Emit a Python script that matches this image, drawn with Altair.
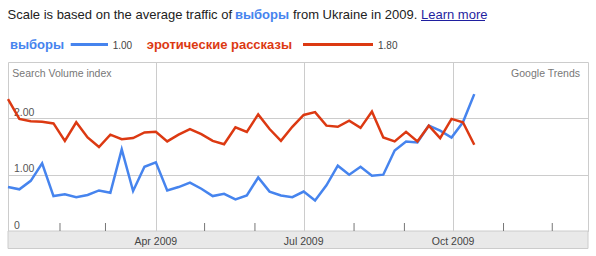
import altair as alt
import pandas as pd

FONT = "Liberation Sans, Arial, sans-serif"

# ---- data -------------------------------------------------------------
series_names = ["выборы", "эротические рассказы"]
series_colors = ["#4684ee", "#dc3912"]
series_avg = ["1.00", "1.80"]

# weekly points (mid-week), first week of 2009 to mid-October 2009
week_dates = [d.strftime("%Y-%m-%d") for d in pd.date_range("2008-12-31", periods=42, freq="7D")]

vybory = [0.78, 0.74, 0.89, 1.20, 0.62, 0.65, 0.60, 0.64, 0.72, 0.68,
          1.45, 0.71, 1.14, 1.22, 0.72, 0.78, 0.86, 0.75, 0.62, 0.66,
          0.56, 0.63, 0.95, 0.70, 0.63, 0.60, 0.70, 0.54, 0.81, 1.16,
          1.00, 1.14, 0.98, 1.00, 1.43, 1.59, 1.57, 1.87, 1.78, 1.66,
          1.93, 2.43]
rasskazy = [2.34, 1.99, 1.95, 1.94, 1.91, 1.60, 1.93, 1.66, 1.49, 1.71,
            1.63, 1.65, 1.75, 1.76, 1.59, 1.71, 1.81, 1.72, 1.60, 1.54,
            1.84, 1.76, 2.07, 1.81, 1.60, 1.85, 2.06, 2.11, 1.87, 1.85,
            1.96, 1.83, 2.12, 1.66, 1.59, 1.76, 1.59, 1.87, 1.65, 1.99,
            1.93, 1.53]

quarter_dates = ["2009-04-01", "2009-07-01", "2009-10-01"]
quarter_labels = ["Apr 2009", "Jul 2009", "Oct 2009"]
month_tick_dates = ["2009-02-01", "2009-03-01", "2009-05-01", "2009-06-01",
                    "2009-08-01", "2009-09-01", "2009-11-01", "2009-12-01"]

y_ticks = [0, 1, 2]

header_parts = ["Scale is based on the average traffic of", "выборы",
                "from Ukraine in 2009.", "Learn more"]
corner_left = "Search Volume index"
corner_right = "Google Trends"

# ---- tables -----------------------------------------------------------
df = pd.DataFrame({
    "date": week_dates * 2,
    "series": [series_names[0]] * len(vybory) + [series_names[1]] * len(rasskazy),
    "value": vybory + rasskazy,
})
qdf = pd.DataFrame({"date": quarter_dates, "label": quarter_labels})
mdf = pd.DataFrame({"date": month_tick_dates})

W, H = 580, 169

xscale = alt.Scale(
    type="utc",
    domain=[alt.DateTime(year=2008, month=12, date=31, utc=True),
            alt.DateTime(year=2009, month=12, date=23, utc=True)],
)
x_enc = alt.X(
    "date:T", scale=xscale,
    axis=alt.Axis(values=[alt.DateTime(year=2009, month=m, date=1, utc=True) for m in (4, 7, 10)],
                  grid=True, gridColor="#cccccc", labels=False, ticks=False,
                  domain=False, title=None),
)
y_enc = alt.Y(
    "value:Q", scale=alt.Scale(domain=[0, 3], nice=False),
    axis=alt.Axis(values=y_ticks, grid=True, gridColor="#cccccc", ticks=False, tickSize=0,
                  domain=False, title=None, labelAlign="left", labelBaseline="alphabetic",
                  labelPadding=-5.5, labelOffset=-3, labelFlush=False, labelOverlap=False,
                  labelFont=FONT, labelFontSize=10.5, labelColor="#555555",
                  labelExpr="datum.value == 0 ? '0' : format(datum.value, '.2f')"),
)

strip = alt.Chart(pd.DataFrame({"k": [0]})).mark_rect(
    fill="#e9e9e9", stroke="#cccccc", strokeWidth=1
).encode(x=alt.value(0), x2=alt.value(W), y=alt.value(H), y2=alt.value(H + 17.5))

month_ticks = alt.Chart(mdf).mark_rule(color="#777777", strokeWidth=1).encode(
    x=alt.X("date:T", scale=xscale), y=alt.value(H - 8), y2=alt.value(H)
)

lines = alt.Chart(df).mark_line(strokeWidth=2.5).encode(
    x=x_enc, y=y_enc,
    color=alt.Color("series:N", scale=alt.Scale(domain=series_names, range=series_colors), legend=None),
    order=alt.Order("date:T"),
)

qlabels = alt.Chart(qdf).mark_text(
    align="center", baseline="alphabetic", font=FONT, fontSize=10.5, color="#444444"
).encode(x=alt.X("date:T", scale=xscale), y=alt.value(H + 14), text="label:N")


def txt(text, x, y, size=13, color="#222222", weight="normal", align="left"):
    return alt.Chart(pd.DataFrame({"t": [text]})).mark_text(
        align=align, baseline="alphabetic", font=FONT, fontSize=size,
        color=color, fontWeight=weight
    ).encode(text="t:N", x=alt.value(x), y=alt.value(y))


def seg(x1, x2, y, color, width):
    return alt.Chart(pd.DataFrame({"k": [0]})).mark_rule(color=color, strokeWidth=width).encode(
        x=alt.value(x1), x2=alt.value(x2), y=alt.value(y)
    )


decor = [
    txt(header_parts[0], -0.5, -43),
    txt(header_parts[1], 227, -43, color=series_colors[0], weight="bold"),
    txt(header_parts[2], 285, -43),
    txt(header_parts[3], 413, -43, color="#1f1fa0"),
    seg(413, 477, -41.5, "#1f1fa0", 1),
    txt(series_names[0], 2, -13.5, color=series_colors[0], weight="bold"),
    seg(62.7, 100, -17.5, series_colors[0], 3),
    txt(series_avg[0], 104.7, -13.5, size=10, color="#444444"),
    txt(series_names[1], 138.7, -13.5, color=series_colors[1], weight="bold"),
    seg(295, 365, -17.5, series_colors[1], 3),
    txt(series_avg[1], 370, -13.5, size=10, color="#444444"),
    txt(corner_left, 4.3, 14.5, size=10.5, color="#777777"),
    txt(corner_right, 572, 14.5, size=10.5, color="#777777", align="right"),
]

chart = alt.layer(strip, month_ticks, lines, qlabels, *decor).properties(
    width=W, height=H,
    autosize=alt.AutoSizeParams(type="none"),
    padding={"left": 8, "top": 62, "right": 8, "bottom": 25},
).configure_view(stroke="#cccccc", strokeWidth=1)

chart.save("out.html", embed_options={"renderer": "svg", "actions": False})
